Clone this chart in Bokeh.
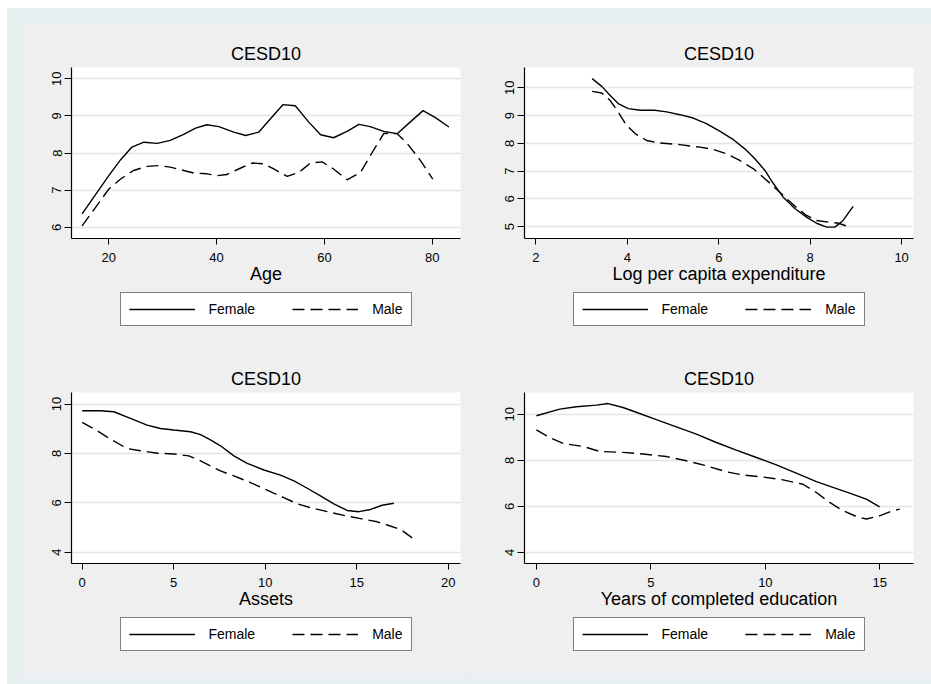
from bokeh.plotting import figure
from bokeh.models import Legend, LegendItem, FixedTicker, Range1d, Spacer
from bokeh.layouts import column, row
from bokeh.embed import file_html
from bokeh.resources import INLINE

# ---------------- data ----------------
title_text = "CESD10"
series_names = ["Female", "Male"]

age_f_x = [15.05, 20.0, 22.2, 24.3, 26.5, 29.0, 31.4, 33.9, 36.1, 38.2, 40.4, 43.2, 45.4, 47.8, 50.0,
           52.3, 54.6, 57.1, 59.3, 61.7, 64.2, 66.4, 68.5, 71.0, 73.5, 75.9, 78.3, 80.6, 83.1]
age_f_y = [6.36, 7.39, 7.82, 8.16, 8.29, 8.26, 8.34, 8.50, 8.67, 8.76, 8.71, 8.56, 8.47, 8.56, 8.92,
           9.30, 9.27, 8.83, 8.49, 8.41, 8.58, 8.77, 8.71, 8.58, 8.52, 8.83, 9.14, 8.95, 8.70]
age_m_x = [15.05, 20.0, 22.2, 24.6, 27.1, 29.3, 31.4, 33.9, 35.8, 38.2, 40.1, 41.9, 44.4, 46.6, 48.8,
           50.6, 53.1, 55.3, 57.4, 59.6, 61.7, 64.2, 66.7, 68.9, 71.0, 73.5, 75.4, 77.8, 80.1]
age_m_y = [6.04, 7.03, 7.30, 7.53, 7.64, 7.66, 7.62, 7.53, 7.46, 7.44, 7.39, 7.42, 7.59, 7.73, 7.71,
           7.57, 7.37, 7.48, 7.73, 7.76, 7.57, 7.28, 7.48, 8.02, 8.52, 8.52, 8.25, 7.80, 7.30]

exp_f_x = [3.23, 3.44, 3.62, 3.80, 4.02, 4.28, 4.60, 4.86, 5.15, 5.44, 5.73, 6.03, 6.32, 6.57, 6.79,
           7.01, 7.19, 7.41, 7.67, 7.92, 8.14, 8.36, 8.54, 8.72, 8.94]
exp_f_y = [10.33, 10.05, 9.73, 9.43, 9.25, 9.19, 9.19, 9.13, 9.03, 8.91, 8.71, 8.43, 8.13, 7.80, 7.44,
           7.02, 6.56, 6.06, 5.64, 5.34, 5.12, 4.98, 4.98, 5.22, 5.73]
exp_m_x = [3.23, 3.44, 3.62, 3.80, 3.98, 4.17, 4.42, 4.71, 5.15, 5.59, 5.88, 6.17, 6.46, 6.76, 6.97,
           7.19, 7.41, 7.67, 7.92, 8.14, 8.40, 8.62, 8.83]
exp_m_y = [9.87, 9.81, 9.55, 9.13, 8.65, 8.35, 8.10, 8.01, 7.95, 7.86, 7.78, 7.62, 7.38, 7.08, 6.78,
           6.46, 6.12, 5.73, 5.40, 5.22, 5.16, 5.12, 5.00]

ast_f_x = [0.0, 1.0, 1.73, 2.64, 3.55, 4.28, 5.01, 5.92, 6.47, 7.01, 7.56, 8.29, 9.02, 9.93, 10.84,
           11.57, 12.30, 13.02, 13.75, 14.48, 15.12, 15.76, 16.39, 17.03]
ast_f_y = [9.73, 9.73, 9.69, 9.42, 9.15, 9.01, 8.95, 8.88, 8.76, 8.55, 8.31, 7.90, 7.60, 7.33, 7.12,
           6.89, 6.59, 6.28, 5.96, 5.69, 5.64, 5.73, 5.90, 5.98]
ast_m_x = [0.0, 0.82, 1.55, 2.46, 3.19, 4.10, 5.01, 5.83, 6.47, 7.19, 7.56, 8.29, 9.20, 10.11, 11.02,
           11.75, 12.48, 13.39, 14.30, 15.21, 16.12, 16.67, 17.40, 18.03]
ast_m_y = [9.26, 8.92, 8.58, 8.20, 8.11, 8.01, 7.98, 7.90, 7.70, 7.43, 7.29, 7.09, 6.82, 6.51, 6.21,
           5.96, 5.80, 5.64, 5.49, 5.36, 5.23, 5.10, 4.92, 4.58]

edu_f_x = [0.0, 1.02, 1.75, 2.62, 3.13, 3.78, 4.51, 5.24, 6.11, 6.99, 7.86, 8.73, 9.61, 10.48, 11.35,
           12.23, 12.95, 13.68, 14.41, 14.99]
edu_f_y = [9.93, 10.22, 10.32, 10.39, 10.46, 10.29, 10.03, 9.76, 9.45, 9.13, 8.77, 8.44, 8.12, 7.80, 7.44,
           7.07, 6.82, 6.57, 6.31, 5.98]
edu_m_x = [0.0, 0.58, 1.16, 2.04, 2.77, 3.78, 4.66, 5.68, 6.55, 7.42, 8.30, 9.02, 9.90, 10.77, 11.64,
           12.23, 12.81, 13.39, 13.97, 14.41, 14.99, 15.43, 15.87]
edu_m_y = [9.32, 8.99, 8.73, 8.60, 8.38, 8.34, 8.27, 8.16, 7.98, 7.76, 7.50, 7.36, 7.27, 7.15, 6.96,
           6.60, 6.17, 5.81, 5.56, 5.45, 5.59, 5.76, 5.88]

age_xticks = [20, 40, 60, 80]
age_yticks = [6, 7, 8, 9, 10]
exp_xticks = [2, 4, 6, 8, 10]
exp_yticks = [5, 6, 7, 8, 9, 10]
ast_xticks = [0, 5, 10, 15, 20]
ast_yticks = [4, 6, 8, 10]
edu_xticks = [0, 5, 10, 15]
edu_yticks = [4, 6, 8, 10]

# ---------------- styling ----------------
FONT = "Liberation Sans"
OUTER_BG = "#e8f0f2"
PANEL_BG = "#efefef"
LINE_W = 1.4
DASH = "12 6"


def make_panel(w, xr, yr, xticks, yticks, xlabel, fx, fy, mx, my, left, right):
    p = figure(width=w, height=266, x_range=Range1d(*xr), y_range=Range1d(*yr),
               output_backend="svg", toolbar_location=None, title=title_text,
               min_border_left=left, min_border_right=right,
               min_border_top=43, min_border_bottom=52)
    p.background_fill_color = "white"
    p.border_fill_color = PANEL_BG
    p.outline_line_color = None

    p.title.align = "center"
    p.title.text_font = FONT
    p.title.text_font_size = "18px"
    p.title.text_font_style = "normal"
    p.title.text_color = "black"
    p.title.standoff = 8

    p.xaxis.ticker = FixedTicker(ticks=xticks)
    p.yaxis.ticker = FixedTicker(ticks=yticks)
    for ax in (p.xaxis, p.yaxis):
        ax.axis_line_color = "black"
        ax.axis_line_width = 1.2
        ax.major_tick_line_color = "black"
        ax.major_tick_line_width = 1
        ax.major_tick_in = 0
        ax.minor_tick_line_color = None
        ax.major_label_text_font = FONT
        ax.major_label_text_font_size = "13px"
        ax.major_label_text_color = "black"
    p.xaxis.major_tick_out = 6
    p.yaxis.major_tick_out = 7
    p.xaxis.major_label_standoff = 8
    p.yaxis.major_label_standoff = 3
    p.yaxis.major_label_orientation = "vertical"
    p.xaxis.axis_label = xlabel
    p.xaxis.axis_label_text_font = FONT
    p.xaxis.axis_label_text_font_size = "18px"
    p.xaxis.axis_label_text_font_style = "normal"
    p.xaxis.axis_label_text_color = "black"
    p.xaxis.axis_label_standoff = -1

    p.xgrid.grid_line_color = None
    p.ygrid.grid_line_color = "#e4e4e4"
    p.ygrid.grid_line_width = 1.3

    p.line(fx, fy, line_color="black", line_width=LINE_W)
    p.line(mx, my, line_color="black", line_width=LINE_W, line_dash=DASH)

    # legend strip below the panel (its renderers fall outside this strip's range,
    # so only the legend box and its glyph samples are visible)
    lg = figure(width=w, height=59, x_range=Range1d(*xr), y_range=Range1d(-2, -1),
                output_backend="svg", toolbar_location=None,
                min_border_left=left, min_border_right=right,
                min_border_top=0, min_border_bottom=0)
    lg.axis.visible = False
    lg.grid.visible = False
    lg.outline_line_color = None
    lg.background_fill_color = PANEL_BG
    lg.border_fill_color = PANEL_BG
    lf = lg.line(fx, fy, line_color="black", line_width=LINE_W)
    lm = lg.line(mx, my, line_color="black", line_width=LINE_W, line_dash=DASH)
    legend = Legend(items=[LegendItem(label=series_names[0], renderers=[lf]),
                           LegendItem(label=series_names[1], renderers=[lm])],
                    orientation="horizontal", location="top_center",
                    border_line_color="black", border_line_width=1,
                    background_fill_color="white", background_fill_alpha=1,
                    padding=8, spacing=37, margin=2,
                    glyph_width=66, glyph_height=16, label_standoff=14,
                    label_text_font=FONT, label_text_font_size="14px",
                    label_text_color="black")
    lg.add_layout(legend, "center")
    return column(p, lg, spacing=0)


p1 = make_panel(444, (13.08, 85.25), (5.70, 10.30), age_xticks, age_yticks, "Age",
                age_f_x, age_f_y, age_m_x, age_m_y, 49, 6)
p2 = make_panel(465, (1.75, 10.26), (4.57, 10.73), exp_xticks, exp_yticks, "Log per capita expenditure",
                exp_f_x, exp_f_y, exp_m_x, exp_m_y, 58, 18)
p3 = make_panel(444, (-0.58, 20.67), (3.54, 10.47), ast_xticks, ast_yticks, "Assets",
                ast_f_x, ast_f_y, ast_m_x, ast_m_y, 49, 6)
p4 = make_panel(465, (-0.52, 16.47), (3.52, 10.94), edu_xticks, edu_yticks, "Years of completed education",
                edu_f_x, edu_f_y, edu_m_x, edu_m_y, 58, 18)

grid = column(row(p1, p2), row(p3, p4))
inner = column(Spacer(height=16, width=924),
               row(Spacer(width=15, height=650), grid),
               Spacer(height=10, width=924),
               styles={"background-color": OUTER_BG})
layout = column(Spacer(height=8, width=931), row(Spacer(width=7, height=676), inner))

open("out.html", "w").write(file_html(layout, INLINE))
